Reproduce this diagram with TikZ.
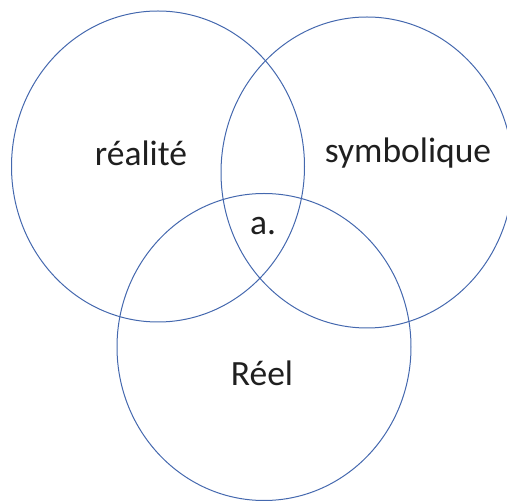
\documentclass[tikz,border=0pt]{standalone}
\usepackage{fontspec}
\setmainfont{Carlito}
\definecolor{ringblue}{HTML}{4468AE}
\begin{document}
\begin{tikzpicture}[x=1pt,y=-1pt,
  ring/.style={draw=ringblue,line width=1pt},
  lbl/.style={anchor=base,inner sep=0pt,font=\fontsize{35.5}{42}\selectfont,text=black!88}]
\useasboundingbox (0,0) rectangle (507,502);
\draw[ring] (158,166.5) ellipse [x radius=146.5, y radius=155.5];
\draw[ring] (367,172.5) ellipse [x radius=146, y radius=155.5];
\draw[ring] (264,347) ellipse [x radius=147, y radius=153.5];
\node[lbl] (realite) at (141,166) {réalité};
\node[lbl] (symb) at (408,163) {symbolique};
\node[lbl] (a) at (263,235) {a.};
\node[lbl] (reel) at (262,386) {Réel};
\end{tikzpicture}
\end{document}
